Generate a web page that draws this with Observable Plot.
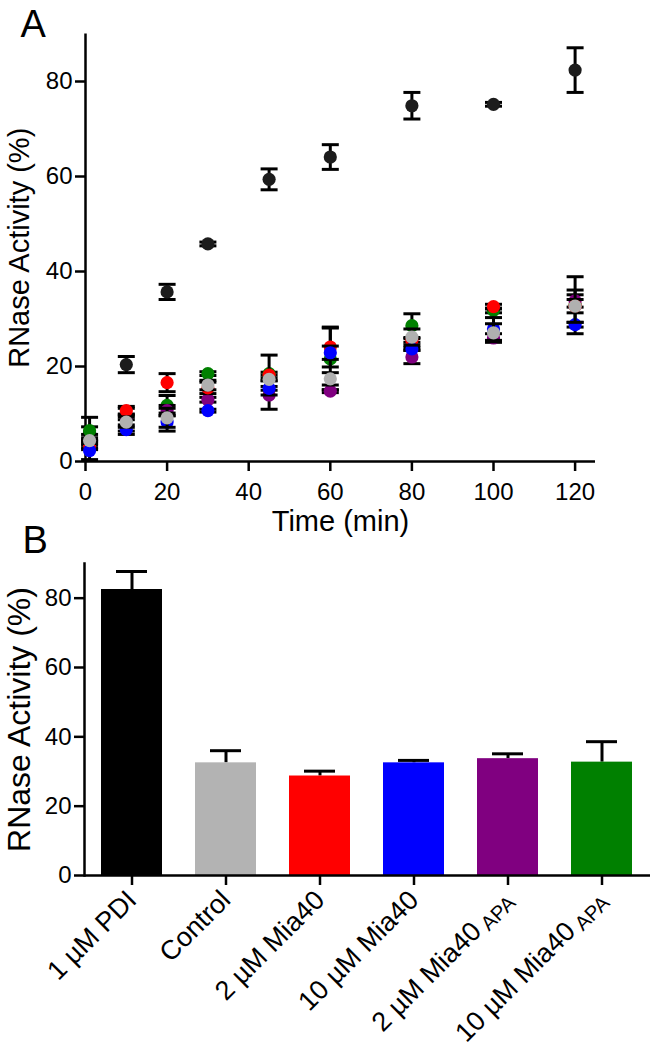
<!DOCTYPE html>
<html><head><meta charset="utf-8">
<script src="https://cdn.jsdelivr.net/npm/d3@7"></script>
<script src="https://cdn.jsdelivr.net/npm/@observablehq/plot@0.6"></script>
<style>
body{margin:0;background:#fff;font-family:"Liberation Sans",Arial,Helvetica,sans-serif}
#wrap{width:650px;height:1050px;position:relative}
#wrap svg{display:block}
</style>
</head><body><div id="wrap"></div>
<script>
// ---------- Panel A data ----------
const times = [1, 10, 20, 30, 45, 60, 80, 100, 120];
const seriesNames = ["1 µM PDI", "10 µM Mia40APA", "2 µM Mia40APA", "2 µM Mia40", "10 µM Mia40", "Control"];
const seriesColors = ["#1c1c1c", "#008000", "#800080", "#ff0000", "#0000ff", "#b0b0b0"];
const pdiVals     = [6.1, 20.4, 35.7, 45.8, 59.4, 64.1, 74.9, 75.2, 82.4];
const pdiErr      = [3.2, 1.7, 1.6, 0.4, 2.2, 2.6, 2.8, 0.4, 4.7];
const apa10Vals   = [6.5, 8.8, 11.8, 18.5, 18.5, 21.6, 28.6, 31.8, 32.9];
const apa10Err    = [0.8, 2.4, 2.1, 0.4, 0.3, 6.5, 2.5, 0.5, 6.0];
const apa2Vals    = [4.0, 9.4, 10.7, 13.0, 14.0, 14.8, 22.0, 26.0, 33.8];
const apa2Err     = [0.5, 0.6, 1.1, 0.5, 3.0, 0.3, 1.4, 0.9, 1.3];
const mia2Vals    = [3.5, 10.7, 16.6, 15.5, 18.2, 24.1, 25.5, 32.6, 32.7];
const mia2Err     = [1.0, 0.9, 1.9, 1.2, 4.2, 4.2, 0.4, 0.5, 1.4];
const mia10Vals   = [2.3, 6.7, 8.3, 10.7, 15.4, 22.9, 23.7, 27.9, 28.8];
const mia10Err    = [1.9, 1.0, 1.9, 0.3, 0.4, 1.4, 0.3, 2.4, 0.5];
const controlVals = [4.4, 8.3, 9.2, 16.1, 17.3, 17.4, 26.2, 27.1, 32.7];
const controlErr  = [0.6, 1.1, 2.0, 1.0, 0.3, 1.3, 1.7, 1.9, 3.4];
const xTicksA = [0, 20, 40, 60, 80, 100, 120];
const yTicks = [0, 20, 40, 60, 80];

// ---------- Panel B data ----------
const groups = ["1 µM PDI", "Control", "2 µM Mia40", "10 µM Mia40", "2 µM Mia40APA", "10 µM Mia40APA"];
const barVals = [82.5, 32.5, 28.7, 32.5, 33.7, 32.7];
const barErr  = [5.2, 3.5, 1.4, 0.7, 1.4, 5.9];
const barColors = ["#000000", "#b3b3b3", "#ff0000", "#0000ff", "#800080", "#008000"];

const FONT = '"Liberation Sans", Arial, Helvetica, sans-serif';

const allVals = [pdiVals, apa10Vals, apa2Vals, mia2Vals, mia10Vals, controlVals];
const allErr  = [pdiErr, apa10Err, apa2Err, mia2Err, mia10Err, controlErr];
const rowsA = [];
seriesNames.forEach((s, si) => {
  times.forEach((t, i) => rowsA.push({series: s, t, v: allVals[si][i], e: allErr[si][i]}));
});

// horizontal cap symbol
const capSymbol = {draw(ctx, size) { const r = Math.sqrt(size / Math.PI); ctx.moveTo(-r, 0); ctx.lineTo(r, 0); }};

// each series: error bars first, then its symbols (drawn in series order)
const seriesMarks = seriesNames.flatMap(s => {
  const rows = rowsA.filter(d => d.series === s);
  return [
    Plot.ruleX(rows, {x: "t", y1: d => d.v - d.e, y2: d => d.v + d.e, stroke: "black", strokeWidth: 3}),
    Plot.dot(rows, {x: "t", y: d => d.v + d.e, symbol: capSymbol, r: 8.5, fill: "none", stroke: "black", strokeWidth: 3}),
    Plot.dot(rows, {x: "t", y: d => d.v - d.e, symbol: capSymbol, r: 8.5, fill: "none", stroke: "black", strokeWidth: 3}),
    Plot.dot(rows, {x: "t", y: "v", fill: "series", r: 6.6, stroke: null})
  ];
});

const plotA = Plot.plot({
  width: 650, height: 540,
  marginTop: 33.5, marginBottom: 79, marginLeft: 85, marginRight: 55,
  style: {fontFamily: FONT, background: "transparent", overflow: "visible"},
  x: {domain: [0, 125], ticks: xTicksA, label: null},
  y: {domain: [0, 90], ticks: yTicks, label: null},
  color: {domain: seriesNames, range: seriesColors},
  marks: [
    Plot.axisX({ticks: xTicksA, tickSize: 10, tickPadding: 11, fontSize: 24, strokeWidth: 2.5, label: null}),
    Plot.axisY({ticks: yTicks, tickSize: 10, tickPadding: 3, fontSize: 24, strokeWidth: 2.5, label: null}),
    Plot.ruleX([0], {strokeWidth: 2.5}),
    Plot.ruleY([0], {strokeWidth: 2.5}),
    ...seriesMarks,
    Plot.text(["Time (min)"], {frameAnchor: "bottom", dy: 69, lineAnchor: "bottom", fontSize: 29, fill: "black"}),
    Plot.text(["RNase Activity (%)"], {frameAnchor: "left", rotate: -90, dx: -66, lineAnchor: "middle", textAnchor: "middle", fontSize: 29, fill: "black"}),
    Plot.text(["A"], {frameAnchor: "top-left", dx: -65, dy: 2.5, lineAnchor: "bottom", textAnchor: "start", fontSize: 38, fill: "black"})
  ]
});

const rowsB = groups.map((g, i) => ({group: g, v: barVals[i], e: barErr[i]}));

const plotB = Plot.plot({
  width: 650, height: 510,
  marginTop: 23, marginBottom: 175, marginLeft: 84, marginRight: 0,
  style: {fontFamily: FONT, background: "transparent", overflow: "visible"},
  x: {type: "band", domain: groups, paddingInner: 0.35, paddingOuter: 0.175, label: null},
  y: {domain: [0, 90], ticks: yTicks, label: null},
  color: {domain: groups, range: barColors},
  marks: [
    Plot.ruleX(rowsB, {x: "group", y1: "v", y2: d => d.v + d.e, stroke: "black", strokeWidth: 3}),
    Plot.tickY(rowsB, {x: "group", y: d => d.v + d.e, stroke: "black", strokeWidth: 3, insetLeft: 15, insetRight: 15}),
    Plot.barY(rowsB, {x: "group", y: "v", fill: "group"}),
    Plot.axisX({tickSize: 10, tickPadding: 10, fontSize: 27, strokeWidth: 2.5, tickRotate: -45, label: null}),
    Plot.axisY({ticks: yTicks, tickSize: 10, tickPadding: 3, fontSize: 24, strokeWidth: 2.5, label: null}),
    Plot.frame({anchor: "left", strokeWidth: 2.5}),
    Plot.ruleY([0], {strokeWidth: 2.5}),
    Plot.text(["RNase Activity (%)"], {frameAnchor: "left", rotate: -90, dx: -65, lineAnchor: "middle", textAnchor: "middle", fontSize: 32, fill: "black"}),
    Plot.text(["B"], {frameAnchor: "top-left", dx: -62, dy: -11, lineAnchor: "bottom", textAnchor: "start", fontSize: 38, fill: "black"})
  ]
});

// subscripts for "APA"
plotB.querySelectorAll('g[aria-label="x-axis tick label"] text').forEach(t => {
  const s = t.textContent;
  if (s.endsWith("APA")) {
    t.textContent = s.slice(0, -3);
    const ts = document.createElementNS("http://www.w3.org/2000/svg", "tspan");
    ts.setAttribute("font-size", "0.75em");
    ts.setAttribute("dx", "0.25em");
    ts.setAttribute("dy", "0.18em");
    ts.textContent = "APA";
    t.appendChild(ts);
  }
});

const wrap = document.getElementById("wrap");
plotA.style.position = "absolute"; plotA.style.left = "0px"; plotA.style.top = "0px";
plotB.style.position = "absolute"; plotB.style.left = "0px"; plotB.style.top = "540px";
wrap.appendChild(plotA);
wrap.appendChild(plotB);
</script>
</body></html>
